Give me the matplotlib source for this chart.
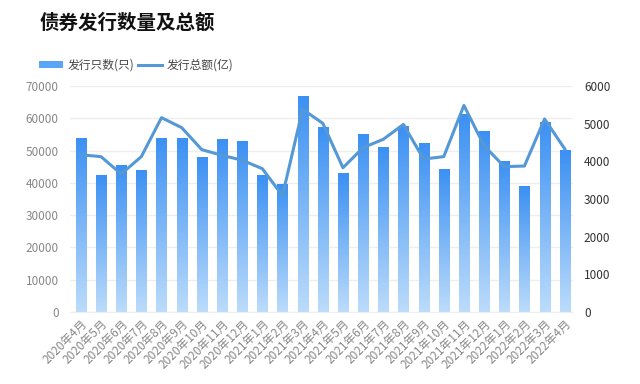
import numpy as np
import matplotlib
matplotlib.use("Agg")
import matplotlib.pyplot as plt
from matplotlib.patches import Patch
from matplotlib.lines import Line2D
from matplotlib.colors import LinearSegmentedColormap

plt.rcParams['font.family'] = ['Noto Sans CJK SC', 'DejaVu Sans']

months = ["2020年4月", "2020年5月", "2020年6月", "2020年7月", "2020年8月", "2020年9月",
          "2020年10月", "2020年11月", "2020年12月", "2021年1月", "2021年2月", "2021年3月",
          "2021年4月", "2021年5月", "2021年6月", "2021年7月", "2021年8月", "2021年9月",
          "2021年10月", "2021年11月", "2021年12月", "2022年1月", "2022年2月", "2022年3月",
          "2022年4月"]
counts = [54000, 42500, 45400, 44000, 54000, 53800, 48100, 53500, 53000, 42400, 39800, 67000,
          57400, 43000, 55200, 51200, 57600, 52500, 44300, 61200, 56000, 46800, 39000, 58900,
          50100]
amounts = [4175, 4125, 3665, 4125, 5160, 4895, 4310, 4160, 4030, 3805, 3090, 5380,
           5010, 3830, 4365, 4585, 4980, 4060, 4125, 5485, 4415, 3860, 3875, 5125, 4330]

fig = plt.figure(figsize=(6.4, 3.84), dpi=100)
ax = fig.add_axes([0.109, 0.1875, 0.786, 0.5885])
ax2 = ax.twinx()

x = np.arange(len(months))
bars = ax.bar(x, counts, width=0.5, color='none', edgecolor='none', zorder=2)
cmap = LinearSegmentedColormap.from_list('g', ['#bcdcfb', '#3b90f3'])
grad = np.linspace(0, 1, 256).reshape(-1, 1)
for b in bars:
    x0, y0 = b.get_x(), b.get_y()
    w, h = b.get_width(), b.get_height()
    im = ax.imshow(grad, extent=[x0, x0 + w, y0, y0 + h], origin='lower',
                   aspect='auto', cmap=cmap, zorder=2)
    im.set_clip_path(b)

ax.set_xlim(-0.55, len(months) - 0.6)
ax.set_ylim(0, 70000)
ax.set_yticks(np.arange(0, 70001, 10000))
ax.grid(axis='y', color='#eeeeee', linewidth=1, zorder=0)
ax.set_axisbelow(True)
ax.set_xticks(x)
ax.set_xticklabels(months, rotation=45, ha='right', rotation_mode='anchor')
ax.tick_params(axis='x', colors='#888888', labelsize=8.5, length=0, pad=4)
ax.tick_params(axis='y', colors='#888888', labelsize=8.5, length=0, pad=8)
for s in ['top', 'right', 'left']:
    ax.spines[s].set_visible(False)
ax.spines['bottom'].set_color('#eeeeee')

ax2.plot(x, amounts, color='#5598d6', linewidth=2.2, zorder=3)
ax2.set_ylim(0, 6000)
ax2.set_yticks(np.arange(0, 6001, 1000))
ax2.tick_params(axis='y', colors='#333333', labelsize=8.5, length=0, pad=8)
for s in ['top', 'right', 'left', 'bottom']:
    ax2.spines[s].set_visible(False)

fig.text(0.062, 0.94, "债券发行数量及总额", fontsize=14, fontweight='bold',
         color='#111111', va='center', ha='left')

handles = [Patch(facecolor='#5aa5f5', edgecolor='none'),
           Line2D([0], [0], color='#5598d6', linewidth=2.2)]
fig.legend(handles, ["发行只数(只)", "发行总额(亿)"], loc='center left',
           bbox_to_anchor=(0.045, 0.83), ncol=2, frameon=False, fontsize=8.5,
           handlelength=2.0, handleheight=0.55, handletextpad=0.4, columnspacing=0.3,
           labelcolor='#444444')

fig.savefig("out.png", dpi=100, facecolor='white')
